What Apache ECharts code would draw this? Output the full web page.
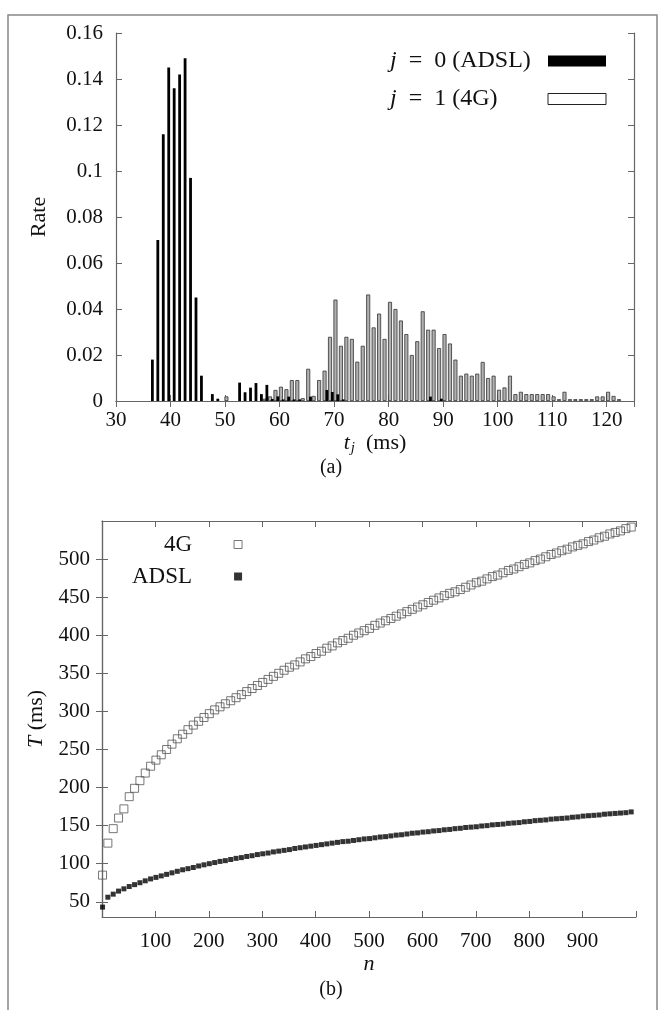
<!DOCTYPE html>
<html><head><meta charset="utf-8">
<script src="https://cdn.jsdelivr.net/npm/echarts@6/dist/echarts.min.js"></script>
<style>html,body{margin:0;padding:0;background:#fff}#c{width:661px;height:1010px}</style>
</head><body><div id="c"></div><script>
// ---- panel (a): histogram data ----
const binsADSL = [37,38,39,40,41,42,43,44,45,46,48,49,53,54,55,56,57,58,59,60,61,62,63,64,66,69,70,71,72,88,90];
const rateADSL = [0.018,0.070,0.116,0.145,0.136,0.142,0.149,0.097,0.045,0.011,0.003,0.001,0.008,0.0038,0.0058,0.0078,0.003,0.007,0.0009,0.002,0.0007,0.0019,0.0007,0.0007,0.0019,0.0048,0.0039,0.0029,0.0007,0.0019,0.001];
const bins4G = [50,57,58,59,60,61,62,63,64,65,66,67,68,69,70,71,72,73,74,75,76,77,78,79,80,81,82,83,84,85,86,87,88,89,90,91,92,93,94,95,96,97,98,99,100,101,102,103,104,105,106,107,108,109,110,111,112,113,114,115,116,117,118,119,120,121,122];
const rate4G = [0.002,0.001,0.002,0.0048,0.0062,0.0051,0.0091,0.0091,0.0012,0.014,0.0022,0.0091,0.0132,0.0279,0.0441,0.024,0.0279,0.027,0.0171,0.024,0.0463,0.032,0.038,0.027,0.0431,0.040,0.035,0.0291,0.020,0.026,0.039,0.031,0.031,0.023,0.0291,0.025,0.018,0.011,0.0119,0.011,0.0119,0.017,0.010,0.011,0.0049,0.0059,0.011,0.003,0.004,0.003,0.003,0.003,0.003,0.003,0.002,0.0008,0.004,0.0008,0.0008,0.0008,0.0008,0.0008,0.002,0.002,0.004,0.0022,0.0008];
const xTicksA = [30,40,50,60,70,80,90,100,110,120];
// ---- panel (b): T vs n ----
const nValues = [1,11,21,31,41,51,61,71,81,91,101,111,121,131,141,151,161,171,181,191,201,211,221,231,241,251,261,271,281,291,301,311,321,331,341,351,361,371,381,391,401,411,421,431,441,451,461,471,481,491,501,511,521,531,541,551,561,571,581,591,601,611,621,631,641,651,661,671,681,691,701,711,721,731,741,751,761,771,781,791,801,811,821,831,841,851,861,871,881,891,901,911,921,931,941,951,961,971,981,991];
const tADSL = [43,56,60,64,67,70,72.5,75,77.5,80,
 82,84,86,88,90,92,93.5,95,97,98.5,
 100,101.5,103,104,105.5,107,108,109.5,110.5,112,
 113,114,115.5,116.5,117.5,118.5,120,121,122,123,
 124,125,126,127,128,129,129.5,130.5,131.5,132.5,
 133,134,135,135.5,136.5,137.5,138,139,140,140.5,
 141.5,142,143,143.5,144.5,145,146,146.5,147.5,148,
 148.5,149.5,150,151,151.5,152,153,153.5,154,155,
 155.5,156.5,157,157.5,158.5,159,159.5,160,161,161.5,
 162.5,163,163.5,164,165,165.5,166,166.5,167,168];
const t4G = [85,127,146,160,172,188,199,209,219,228,
 236,243,250,257,264,270,276,282,287,292,
 297,302,306,310,314,318,322,326,330,334,
 338,342,346,350,354,358,361,365,369,372,
 376,379,383,386,390,393,396,400,403,406,
 409,413,416,419,422,425,428,431,434,437,
 440,443,446,449,452,455,457,460,463,466,
 469,471,474,477,479,482,485,487,490,493,
 495,498,500,503,506,508,511,513,516,518,
 520,523,525,528,530,533,535,537,540,542];
const yTicksB = [50,100,150,200,250,300,350,400,450,500];
const xTicksB = [100,200,300,400,500,600,700,800,900];

const FONT = '"Liberation Serif","DejaVu Serif",serif';
const TXT = '#111';
const TICK_FS = 21, NAME_FS = 22, LEG_FS = 23, KEY_FS = 24;
const lineStyle = {color:'#666', width:1.2};
const tick = {inside:true, length:6, lineStyle:{color:'#666', width:1}};

// text measuring for the top key (so the key boxes line up)
const mctx = document.createElement('canvas').getContext('2d');
function tw(txt, italic) { mctx.font = (italic ? 'italic ' : '') + KEY_FS + 'px ' + FONT; return mctx.measureText(txt).width; }
const KEY_LEFT = 390, KEY_BOX_LEFT = 548;
const keyRest = name => name.slice(1).replace(' = ', '  =  ');
function keyPad(name) { return Math.max(0, KEY_BOX_LEFT - 5 - KEY_LEFT - tw('j', true) - tw(keyRest(name), false)); }
const nameA = 'j = 0 (ADSL)', nameB = 'j = 1 (4G)';

const chart = echarts.init(document.getElementById('c'));
const option = {
  animation:false,
  backgroundColor:'#fff',
  textStyle:{fontFamily:FONT},
  grid:[{left:116, top:33, width:518, height:368}, {left:102, top:521, width:534, height:396}],
  xAxis:[
    {gridIndex:0, type:'value', min:30, max:125, interval:10, position:'bottom',
     axisLine:{show:true, lineStyle}, axisTick:tick, splitLine:{show:false},
     axisLabel:{fontSize:TICK_FS, color:TXT, fontFamily:FONT, margin:9, formatter:v => xTicksA.includes(v) ? String(v) : ''},
     name:'{i|t}{s|j}  (ms)', nameLocation:'middle', nameGap:29,
     nameTextStyle:{fontSize:NAME_FS, color:TXT, fontFamily:FONT,
       rich:{i:{fontStyle:'italic', fontSize:NAME_FS, fontFamily:FONT, color:TXT},
             s:{fontStyle:'italic', fontSize:15, fontFamily:FONT, color:TXT, padding:[11,0,0,1]}}}},
    {gridIndex:0, type:'value', min:30, max:125, interval:10, position:'top',
     axisLine:{show:true, lineStyle}, axisTick:tick, axisLabel:{show:false}, splitLine:{show:false}},
    {gridIndex:1, type:'value', min:0, max:1000, interval:100, position:'bottom',
     axisLine:{show:true, lineStyle}, axisTick:tick, splitLine:{show:false},
     axisLabel:{fontSize:TICK_FS, color:TXT, fontFamily:FONT, margin:14, formatter:v => xTicksB.includes(v) ? String(v) : ''},
     name:'n', nameLocation:'middle', nameGap:35,
     nameTextStyle:{fontSize:NAME_FS, color:TXT, fontFamily:FONT, fontStyle:'italic'}},
    {gridIndex:1, type:'value', min:0, max:1000, interval:100, position:'top',
     axisLine:{show:true, lineStyle}, axisTick:tick, axisLabel:{show:false}, splitLine:{show:false}}
  ],
  yAxis:[
    {gridIndex:0, type:'value', min:0, max:0.16, interval:0.02, position:'left',
     axisLine:{show:true, lineStyle}, axisTick:tick, splitLine:{show:false},
     axisLabel:{fontSize:TICK_FS, color:TXT, fontFamily:FONT, margin:13, formatter:v => v === 0 ? '0' : String(+v.toFixed(2))},
     name:'Rate', nameLocation:'middle', nameGap:66,
     nameTextStyle:{fontSize:NAME_FS, color:TXT, fontFamily:FONT}},
    {gridIndex:0, type:'value', min:0, max:0.16, interval:0.02, position:'right',
     axisLine:{show:true, lineStyle}, axisTick:tick, axisLabel:{show:false}, splitLine:{show:false}},
    {gridIndex:1, type:'value', min:30, max:550, position:'left',
     axisLine:{show:true, lineStyle}, splitLine:{show:false},
     axisTick:Object.assign({customValues:yTicksB}, tick),
     axisLabel:{customValues:yTicksB, fontSize:TICK_FS, color:TXT, fontFamily:FONT, margin:12},
     name:'{i|T} (ms)', nameLocation:'middle', nameGap:50,
     nameTextStyle:{fontSize:NAME_FS, color:TXT, fontFamily:FONT,
       rich:{i:{fontStyle:'italic', fontSize:NAME_FS, fontFamily:FONT, color:TXT}}}},
    {gridIndex:1, type:'value', min:30, max:550, position:'right',
     axisLine:{show:true, lineStyle}, splitLine:{show:false},
     axisTick:Object.assign({customValues:yTicksB}, tick), axisLabel:{show:false}}
  ],
  legend:[
    {data:[nameA, {name:nameB, itemStyle:{color:'#fff', borderColor:'#222', borderWidth:1}}],
     orient:'vertical', align:'right', left:KEY_LEFT, top:49, padding:0, itemWidth:58, itemHeight:11, itemGap:14, icon:'rect',
     selectedMode:false,
     formatter:name => '{i|j}{' + (name === nameA ? 'a' : 'b') + '|' + keyRest(name) + '}',
     textStyle:{fontSize:KEY_FS, color:TXT, fontFamily:FONT,
       rich:{i:{fontStyle:'italic', fontSize:KEY_FS, fontFamily:FONT, color:TXT},
             a:{fontSize:KEY_FS, fontFamily:FONT, color:TXT, padding:[0, keyPad(nameA), 0, 0]},
             b:{fontSize:KEY_FS, fontFamily:FONT, color:TXT, padding:[0, keyPad(nameB), 0, 0]}}}},
    {data:[{name:'4G', itemStyle:{color:'#fff', borderColor:'#555', borderWidth:1}}, 'ADSL'],
     orient:'vertical', align:'right', left:127, top:528, itemWidth:8, itemHeight:8, itemGap:9, icon:'rect',
     selectedMode:false,
     formatter:name => '{a|' + name + '}',
     textStyle:{fontSize:LEG_FS, color:TXT, fontFamily:FONT,
       rich:{a:{fontSize:LEG_FS, fontFamily:FONT, color:TXT, width:60, align:'right', padding:[0,37,0,0]}}}}
  ],
  series:[
    {name:nameB, type:'bar', xAxisIndex:1, yAxisIndex:0, barWidth:4,
     itemStyle:{color:'#b0b0b0', borderColor:'#333', borderWidth:0.8},
     data:bins4G.map((b,i) => [b + 0.25, rate4G[i]]), z:2},
    {name:nameA, type:'bar', xAxisIndex:0, yAxisIndex:0, barWidth:2.8,
     itemStyle:{color:'#000'},
     data:binsADSL.map((b,i) => [b - 0.33, rateADSL[i]]), z:3},
    {name:'4G', type:'scatter', xAxisIndex:2, yAxisIndex:2, symbol:'rect', symbolSize:8,
     itemStyle:{color:'rgba(255,255,255,0)', borderColor:'#555', borderWidth:1},
     data:nValues.map((n,i) => [n, t4G[i]])},
    {name:'ADSL', type:'scatter', xAxisIndex:2, yAxisIndex:2, symbol:'rect', symbolSize:5,
     itemStyle:{color:'#000'},
     data:nValues.map((n,i) => [n, tADSL[i]])}
  ],
  graphic:[
    {type:'polyline', silent:true, shape:{points:[[8,1010],[8,15],[657,15],[657,1010]]},
     style:{stroke:'#888', lineWidth:1.5, fill:null}},
    {type:'text', silent:true, x:331, y:468,
     style:{text:'(a)', fontSize:20, fontFamily:FONT, fill:TXT, align:'center', verticalAlign:'middle'}},
    {type:'text', silent:true, x:331, y:990,
     style:{text:'(b)', fontSize:20, fontFamily:FONT, fill:TXT, align:'center', verticalAlign:'middle'}}
  ]
};
chart.setOption(option);
</script></body></html>
